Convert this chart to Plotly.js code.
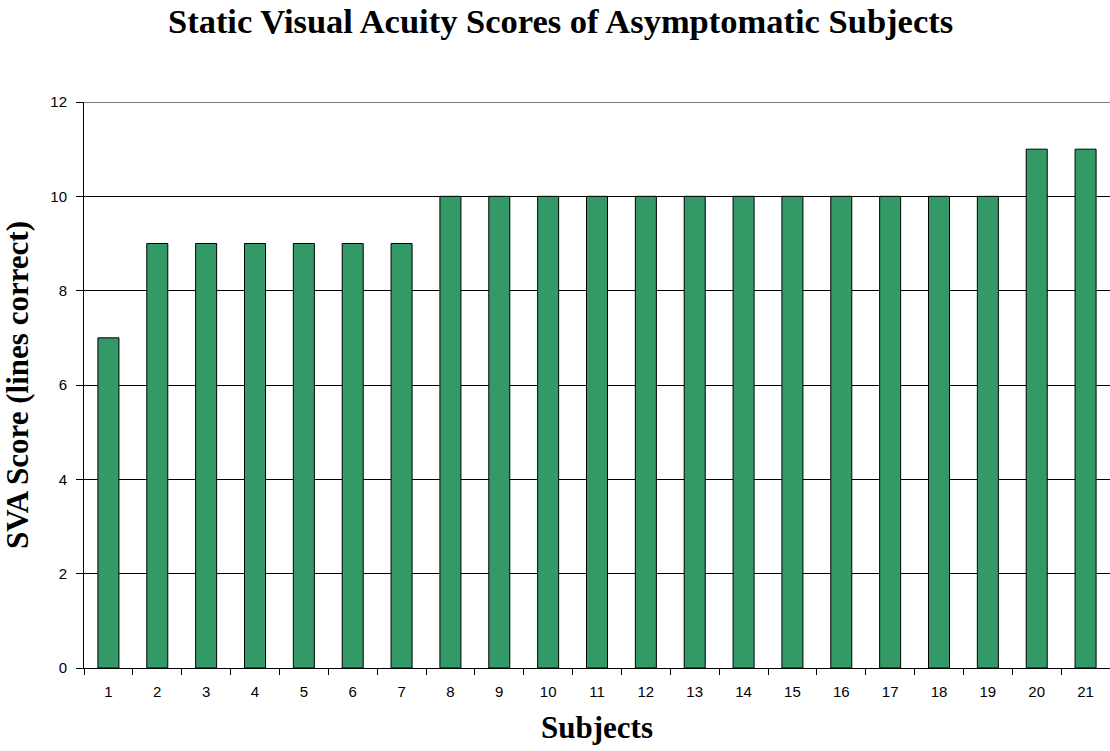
<!DOCTYPE html>
<html>
<head>
<meta charset="utf-8">
<script src="https://cdn.plot.ly/plotly-3.0.1.min.js"></script>
<style>html,body{margin:0;padding:0;background:#fff;}</style>
</head>
<body>
<div id="chart" style="width:1110px;height:751px;"></div>
<script>
const subjects = ["1","2","3","4","5","6","7","8","9","10","11","12","13","14","15","16","17","18","19","20","21"];
const svaScores = [7,9,9,9,9,9,9,10,10,10,10,10,10,10,10,10,10,10,10,11,11];
const yTicks = [0,2,4,6,8,10,12];
const yMax = 12;

const trace = {
  type: 'bar',
  x: subjects,
  y: svaScores,
  marker: {color: '#339966', line: {color: '#000000', width: 1}},
  hoverinfo: 'x+y'
};

const layout = {
  width: 1110, height: 751,
  margin: {l: 84, r: 0, t: 102, b: 83},
  paper_bgcolor: '#ffffff', plot_bgcolor: '#ffffff',
  bargap: 0.57,
  showlegend: false,
  title: {
    text: '<b>Static Visual Acuity Scores of Asymptomatic Subjects</b>',
    font: {family: 'Liberation Serif, Times New Roman, serif', size: 34.5, color: '#000'},
    x: 0.505, xanchor: 'center', y: 0.972, yanchor: 'middle'
  },
  xaxis: {
    type: 'category',
    tickvals: subjects,
    ticktext: subjects,
    tickson: 'boundaries',
    ticks: 'outside', ticklen: 6, tickcolor: '#000', tickwidth: 1,
    ticklabelstandoff: 10,
    showline: true, linecolor: '#000', linewidth: 1,
    showgrid: false,
    tickfont: {family: 'Liberation Sans, Arial, sans-serif', size: 15, color: '#000'},
    title: {text: '<b>Subjects</b>', font: {family: 'Liberation Serif, Times New Roman, serif', size: 31, color: '#000'}, standoff: 17}
  },
  yaxis: {
    range: [0, yMax],
    tickvals: yTicks,
    ticks: 'outside', ticklen: 7, tickcolor: '#000', tickwidth: 1,
    ticklabelstandoff: 6,
    showline: true, linecolor: '#000', linewidth: 1,
    showgrid: true, gridcolor: '#000', gridwidth: 1,
    zeroline: false,
    tickfont: {family: 'Liberation Sans, Arial, sans-serif', size: 15, color: '#000'},
    title: {text: '<b>SVA Score (lines correct)</b>', font: {family: 'Liberation Serif, Times New Roman, serif', size: 31, color: '#000'}, standoff: 14}
  },
  shapes: [{
    type: 'line', xref: 'paper', yref: 'y', x0: 0, x1: 1, y0: yMax, y1: yMax,
    line: {color: '#000', width: 1}
  }]
};

Plotly.newPlot('chart', [trace], layout, {displayModeBar: false, staticPlot: true});
</script>
</body>
</html>
